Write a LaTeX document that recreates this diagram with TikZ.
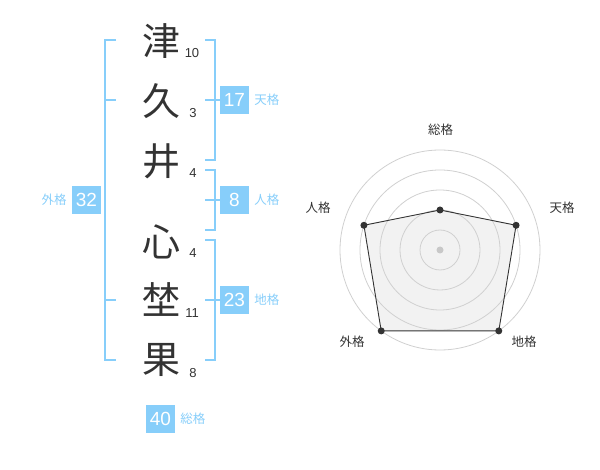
\documentclass[tikz,border=0pt]{standalone}
\usepackage{fontspec}
\setmainfont{Liberation Sans}
\newfontfamily\jpfont{Noto Sans CJK JP}
\usepackage{tikz}
\usetikzlibrary{calc}
\definecolor{inkgray}{RGB}{51, 51, 51}
\definecolor{skyblue1}{RGB}{135, 206, 250}
\definecolor{ringgray}{RGB}{208, 208, 208}
\definecolor{areagray}{RGB}{242, 242, 242}
\definecolor{dotgray}{RGB}{200, 200, 200}

\begin{document}
\begin{tikzpicture}[x=1pt, y=-1pt,
  kanji/.style={font=\jpfont\fontsize{38}{38}\selectfont, text=inkgray, inner sep=0pt},
  strokes/.style={font=\fontsize{13}{13}\selectfont, text=inkgray, inner sep=0pt},
  badge/.style={fill=skyblue1, text=white, font=\fontsize{19}{19}\selectfont,
                minimum width=29pt, minimum height=28pt, inner sep=0pt},
  kaku/.style={font=\jpfont\fontsize{12.5}{12.5}\selectfont, text=skyblue1, inner sep=0pt},
  axislbl/.style={font=\jpfont\fontsize{12.5}{12.5}\selectfont, text=inkgray, inner sep=0pt},
  bracket/.style={draw=skyblue1, line width=2pt},
  ring/.style={draw=ringgray, line width=0.8pt},
]
\useasboundingbox (0, 0) rectangle (600, 470);

% Name characters
\node[kanji] (c1) at (161, 41) {津};
\node[kanji] (c2) at (161, 101) {久};
\node[kanji] (c3) at (161, 161) {井};
\node[kanji] (c4) at (161, 242) {心};
\node[kanji] (c5) at (161, 300) {埜};
\node[kanji] (c6) at (161, 360) {果};

% Stroke counts
\node[strokes] (n1) at (192, 53) {10};
\node[strokes] (n2) at (193, 113) {3};
\node[strokes] (n3) at (193, 173) {4};
\node[strokes] (n4) at (193, 253) {4};
\node[strokes] (n5) at (192, 313) {11};
\node[strokes] (n6) at (193, 373) {8};

% Brackets
\draw[bracket] (116, 40) -- (105, 40) -- (105, 360) -- (116, 360);
\draw[bracket] (105, 100) -- (116, 100);
\draw[bracket] (105, 300) -- (116, 300);
\draw[bracket] (205, 40) -- (215, 40) -- (215, 160) -- (205, 160);
\draw[bracket] (205, 100) -- (220, 100);
\draw[bracket] (205, 170) -- (215, 170) -- (215, 230) -- (205, 230);
\draw[bracket] (205, 200) -- (220, 200);
\draw[bracket] (205, 240) -- (215, 240) -- (215, 360) -- (205, 360);
\draw[bracket] (205, 300) -- (220, 300);

% Badges
\node[badge] (ten) at (234.5, 100) {17};
\node[kaku, right=5pt] (tenl) at (ten.east) {天格};
\node[badge] (jin) at (234.5, 200) {8};
\node[kaku, right=5pt] (jinl) at (jin.east) {人格};
\node[badge] (chi) at (234.5, 300) {23};
\node[kaku, right=5pt] (chil) at (chi.east) {地格};
\node[badge] (gai) at (86.5, 200) {32};
\node[kaku, left=5pt] (gail) at (gai.west) {外格};
\node[badge] (sou) at (160.5, 419) {40};
\node[kaku, right=5pt] (soul) at (sou.east) {総格};

% Radar chart
\coordinate (ctr) at (440, 250);
\coordinate (psou) at ($(ctr)+(90:40pt)$);
\coordinate (pten) at ($(ctr)+(18:80pt)$);
\coordinate (pchi) at ($(ctr)+(-54:100pt)$);
\coordinate (pgai) at ($(ctr)+(-126:100pt)$);
\coordinate (pjin) at ($(ctr)+(162:80pt)$);
\fill[areagray] (psou) -- (pten) -- (pchi) -- (pgai) -- (pjin) -- cycle;
\draw[ring] (ctr) circle[radius=20pt];
\draw[ring] (ctr) circle[radius=40pt];
\draw[ring] (ctr) circle[radius=60pt];
\draw[ring] (ctr) circle[radius=80pt];
\draw[ring] (ctr) circle[radius=100pt];
\fill[dotgray] (ctr) circle (3.5pt);
\draw[inkgray, line width=0.9pt] (psou) -- (pten) -- (pchi) -- (pgai) -- (pjin) -- cycle;
\fill[inkgray] (psou) circle (3.5pt);
\fill[inkgray] (pten) circle (3.5pt);
\fill[inkgray] (pchi) circle (3.5pt);
\fill[inkgray] (pgai) circle (3.5pt);
\fill[inkgray] (pjin) circle (3.5pt);

% Axis labels
\node[axislbl] (asou) at (440.5, 130) {総格};
\node[axislbl] (aten) at (562, 208) {天格};
\node[axislbl] (achi) at (524, 342) {地格};
\node[axislbl] (agai) at (352, 342) {外格};
\node[axislbl] (ajin) at (318, 208) {人格};
\end{tikzpicture}
\end{document}
